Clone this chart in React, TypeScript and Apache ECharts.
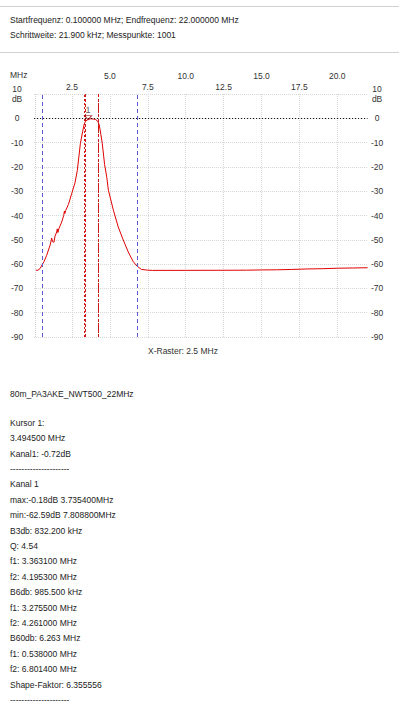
import React, { useEffect, useRef } from 'react';
import * as echarts from 'echarts';

const FONT = '"Liberation Sans", Arial, sans-serif';

const headerLines = [
  'Startfrequenz: 0.100000 MHz; Endfrequenz: 22.000000 MHz',
  'Schrittweite: 21.900 kHz; Messpunkte: 1001',
];
const infoTitle = '80m_PA3AKE_NWT500_22MHz';
const infoLines = [
  'Kursor 1:',
  '3.494500 MHz',
  'Kanal1: -0.72dB',
  '---------------------',
  'Kanal 1',
  'max:-0.18dB 3.735400MHz',
  'min:-62.59dB 7.808800MHz',
  'B3db: 832.200 kHz',
  'Q: 4.54',
  'f1: 3.363100 MHz',
  'f2: 4.195300 MHz',
  'B6db: 985.500 kHz',
  'f1: 3.275500 MHz',
  'f2: 4.261000 MHz',
  'B60db: 6.263 MHz',
  'f1: 0.538000 MHz',
  'f2: 6.801400 MHz',
  'Shape-Faktor: 6.355556',
  '---------------------',
];

const freqMHz = [0.1, 0.25, 0.4, 0.538, 0.65, 0.83, 1.05, 1.12, 1.16, 1.22, 1.31, 1.38, 1.49, 1.53, 1.57, 1.63, 1.82, 1.95, 2.0, 2.03, 2.08, 2.26, 2.48, 2.7, 2.85, 2.95, 3.05, 3.2, 3.3, 3.4, 3.4945, 3.6, 3.7354, 3.9, 4.05, 4.2, 4.3, 4.4, 4.5, 4.65, 4.8, 4.9, 5.23, 5.55, 5.88, 6.21, 6.54, 6.8014, 7.09, 7.5, 7.8088, 10, 12, 14, 15, 16, 17, 18, 19, 20, 21, 22];
const levelDb = [-62.5, -62.55, -61.8, -60.2, -59, -56.4, -52.3, -50.5, -49.3, -50.8, -51, -48.5, -46.8, -45.5, -47, -45.5, -42.7, -40, -38.2, -39.2, -38, -35.5, -31, -26.5, -21.5, -16, -10.5, -5.5, -2.5, -1.1, -0.72, -0.4, -0.18, -0.3, -0.5, -1.2, -2.8, -6.5, -10.5, -19, -24.5, -29.6, -37.8, -44.7, -50.1, -55, -59, -60.9, -62.2, -62.5, -62.59, -62.57, -62.55, -62.5, -62.4, -62.35, -62.2, -62.0, -61.9, -61.7, -61.6, -61.5];

const cursorFreq = 3.4945;
const cursorLevel = -0.72;
const b60Lines = [0.538, 6.8014];
const b6Lines = [3.2755, 4.261];
const b3Lines = [3.3631, 4.1953];
const startFreq = 0.1;
const yUnit = 'dB';

export default function App() {
  const ref = useRef<HTMLDivElement>(null);
  useEffect(() => {
    if (!ref.current) return;
    const chart = echarts.init(ref.current, undefined, { renderer: 'svg' });
    const txt = (text: string, x: number, y: number, extra: any = {}) => ({
      type: 'text',
      silent: true,
      style: {
        text, x, y,
        fill: '#222',
        fontSize: 8.5,
        fontFamily: FONT,
        align: 'left', textAlign: 'left',
        verticalAlign: 'middle', textVerticalAlign: 'middle',
        ...extra,
      },
    });
    const graphics: any[] = [
      { type: 'line', silent: true, shape: { x1: 0, y1: 6.5, x2: 399, y2: 6.5 }, style: { stroke: '#d0d0d0', lineWidth: 1 } },
      { type: 'line', silent: true, shape: { x1: 0, y1: 52.5, x2: 399, y2: 52.5 }, style: { stroke: '#d0d0d0', lineWidth: 1 } },
      txt(headerLines[0], 10, 20),
      txt(headerLines[1], 10, 34.7),
      txt('MHz', 10, 75, { fill: '#333' }),
      txt('X-Raster: 2.5 MHz', 148, 351, { fill: '#333' }),
      txt(infoTitle, 10, 393.5),
    ];
    infoLines.forEach((l, i) => graphics.push(txt(l, 10, 422.7 + i * 15.4)));

    const gridColor = '#d6d6d6';
    const labelStyle = { fontSize: 8.5, fontFamily: FONT, color: '#333' };
    const vline = (x: number, color: string, type: any) => ({ xAxis: x, lineStyle: { color, type, width: 1 } });
    const yFmt = (v: number) => (v === 10 ? `{t|10}\n{t|${yUnit}}` : String(v));
    const yRich = { t: { fontSize: 8.5, fontFamily: FONT, color: '#333', lineHeight: 10, padding: [0, 0, 0, 0] } };

    chart.setOption({
      animation: false,
      textStyle: { fontFamily: FONT },
      grid: { left: 34.1, right: 31.4, top: 94, bottom: 376, containLabel: false },
      xAxis: [
        {
          type: 'value', position: 'top', min: 0, max: 22, interval: 2.5,
          axisLine: { show: false }, axisTick: { show: false },
          axisLabel: {
            ...labelStyle, margin: 3,
            formatter: (v: number) => (v > 1 && v < 21 && Math.round(v / 2.5) % 2 === 1 ? v.toFixed(1) : ''),
          },
          splitLine: { show: true, showMinLine: false, showMaxLine: false, lineStyle: { color: gridColor, type: [1, 1], width: 1 } },
        },
        {
          type: 'value', position: 'top', offset: 11, min: 0, max: 22, interval: 2.5,
          axisLine: { show: false }, axisTick: { show: false },
          axisLabel: {
            ...labelStyle, margin: 3,
            formatter: (v: number) => (v > 1 && v < 21 && Math.round(v / 2.5) % 2 === 0 ? v.toFixed(1) : ''),
          },
          splitLine: { show: false },
        },
      ],
      yAxis: [
        {
          type: 'value', position: 'left', min: -90, max: 10, interval: 10,
          axisLine: { show: false }, axisTick: { show: false },
          axisLabel: { ...labelStyle, margin: 17, align: 'center', formatter: yFmt, rich: yRich },
          splitLine: { show: true, lineStyle: { color: gridColor, type: [1, 1], width: 1 } },
        },
        {
          type: 'value', position: 'right', min: -90, max: 10, interval: 10,
          axisLine: { show: false }, axisTick: { show: false },
          axisLabel: { ...labelStyle, margin: 9.5, align: 'center', formatter: yFmt, rich: yRich },
          splitLine: { show: false },
        },
      ],
      series: [
        {
          type: 'line',
          data: freqMHz.map((f, i) => [f, levelDb[i]]),
          showSymbol: false,
          symbol: 'none',
          lineStyle: { color: '#e00000', width: 1 },
          silent: true,
          markLine: {
            silent: true,
            symbol: ['none', 'none'],
            label: { show: false },
            animation: false,
            data: [
              vline(startFreq, '#cfcfcf', [1, 1]),
              ...b60Lines.map((x) => vline(x, '#5a5ad6', [4, 3])),
              ...b6Lines.map((x) => vline(x, '#d01818', [2, 2])),
              ...b3Lines.map((x) => vline(x, '#d01818', [3, 2])),
              { yAxis: 0, lineStyle: { color: '#000', type: [1, 2], width: 1 } },
            ],
          },
        },
        {
          type: 'scatter',
          data: [[cursorFreq, cursorLevel]],
          symbol: 'triangle',
          symbolRotate: 180,
          symbolSize: [7, 4],
          symbolOffset: [1, -2.5],
          itemStyle: { color: 'rgba(0,0,0,0)', borderColor: '#a01010', borderWidth: 1 },
          label: { show: true, formatter: '1', position: 'top', distance: 1, fontSize: 9, fontFamily: FONT, color: '#333' },
          silent: true,
          z: 5,
        },
      ],
      graphic: graphics,
    });
    return () => chart.dispose();
  }, []);
  return (
    <div
      ref={ref}
      style={{ position: 'absolute', left: 0, top: 0, width: 399, height: 713, background: '#fff' }}
    />
  );
}
